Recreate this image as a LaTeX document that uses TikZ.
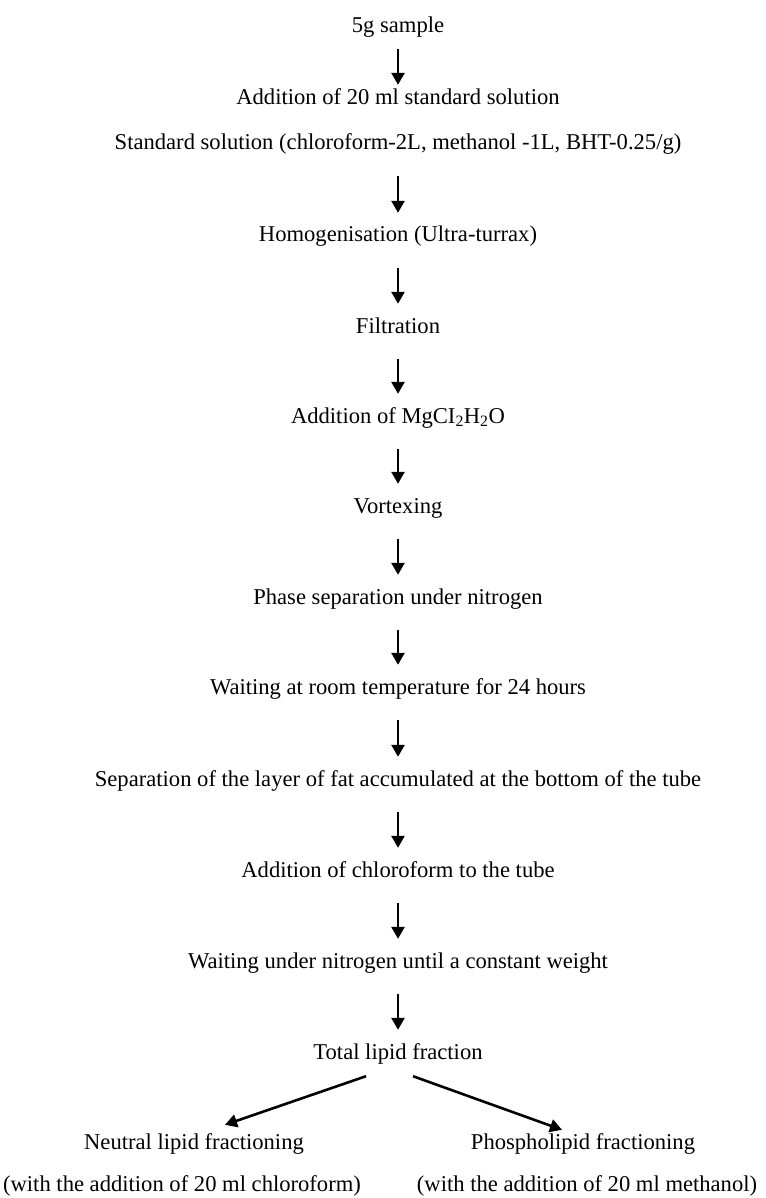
\documentclass[tikz,border=0pt]{standalone}
\usepackage{fontspec}
\setmainfont{Liberation Serif}
\usetikzlibrary{arrows.meta}

\tikzset{
  stage/.style={anchor=base, inner sep=0pt, text height=16pt, text depth=4pt, font=\fontsize{22.6}{26}\selectfont},
  flow/.style={-{Triangle[width=13pt,length=12pt]}, line width=2.6pt},
}

\begin{document}
\begin{tikzpicture}[x=1pt,y=-1pt]
	\useasboundingbox (0,0) rectangle (765,1198);
	
	%%%%% STEPS %%%%%
	\node[stage] (sample) at (398,33) {5g sample};
	\node[stage] (addsol) at (398,105) {Addition of 20 ml standard solution};
	\node[stage] (stdsol) at (398,150) {Standard solution (chloroform-2L, methanol -1L, BHT-0.25/g)};
	\node[stage] (homog) at (398,242) {Homogenisation (Ultra-turrax)};
	\node[stage] (filt) at (398,333) {Filtration};
	\node[stage] (addmg) at (398,423) {Addition of MgCI\textsubscript{2}H\textsubscript{2}O};
	\node[stage] (vortex) at (398,513) {Vortexing};
	\node[stage] (phase) at (398,604) {Phase separation under nitrogen};
	\node[stage] (waitroom) at (398,694) {Waiting at room temperature for 24 hours};
	\node[stage] (seplayer) at (398,786) {Separation of the layer of fat accumulated at the bottom of the tube};
	\node[stage] (addchl) at (398,877) {Addition of chloroform to the tube};
	\node[stage] (waitnit) at (398,968) {Waiting under nitrogen until a constant weight};
	\node[stage] (total) at (398,1059) {Total lipid fraction};
	
	\node[stage] (neutral) at (194,1149) {Neutral lipid fractioning};
	\node[stage] (phospho) at (583,1149) {Phospholipid fractioning};
	\node[stage] (withchl) at (182,1191) {(with the addition of 20 ml chloroform)};
	\node[stage] (withmet) at (587,1191) {(with the addition of 20 ml methanol)};
	
	%%%%% ARROWS %%%%%
	\draw[flow, shorten <=12pt, shorten >=4pt] (sample.south) -- (addsol.north);
	\foreach \a/\b in {stdsol/homog, homog/filt, filt/addmg, addmg/vortex, vortex/phase, phase/waitroom, waitroom/seplayer, seplayer/addchl, addchl/waitnit, waitnit/total}
		\draw[flow, shorten <=22pt, shorten >=13pt] (\a.south) -- (\b.north);
	
	\draw[flow] ([xshift=-32pt,yshift=-13pt]total.south) -- ([xshift=31pt,yshift=8pt]neutral.north);
	\draw[flow] ([xshift=15pt,yshift=-13pt]total.south) -- ([xshift=-21pt,yshift=3pt]phospho.north);
	
\end{tikzpicture}
\end{document}
